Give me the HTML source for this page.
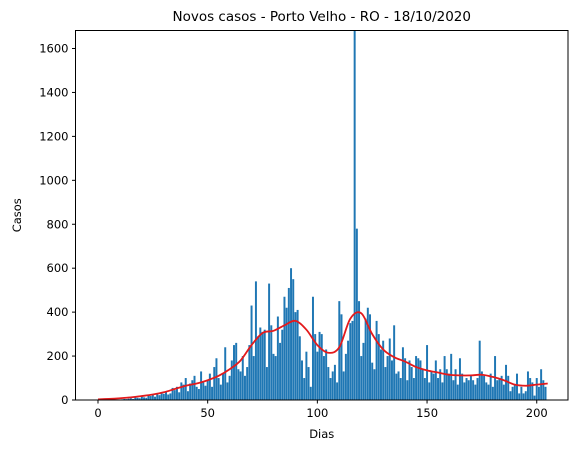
<!DOCTYPE html>
<html><head><meta charset="utf-8"><style>
body{margin:0;background:#fff;font-family:"Liberation Sans","DejaVu Sans",sans-serif}
text{font-family:"DejaVu Sans","Liberation Sans",sans-serif}
</style></head><body>
<svg id="chart" width="580" height="453" xmlns="http://www.w3.org/2000/svg"></svg>
<script>
const days = Array.from({length:205},(_,i)=>i);
const cases = [0,0,0,0,0,0,0,1,0,2,
2,3,5,4,6,8,5,12,10,8,
15,12,10,20,18,25,15,30,22,35,
28,40,25,30,55,45,60,35,80,70,
100,40,75,90,110,60,50,130,80,65,
90,120,60,150,190,100,70,120,240,80,
110,180,250,260,140,130,200,110,150,250,
430,200,540,290,330,310,320,150,530,340,
210,200,380,260,320,470,420,510,600,550,
400,410,290,180,100,220,150,60,470,300,
220,310,300,200,230,150,100,130,160,80,
450,390,130,210,270,350,360,1680,780,450,
200,260,370,420,390,170,140,360,300,230,
270,150,200,280,180,340,120,130,100,240,
190,90,180,150,100,200,190,180,140,100,
250,80,130,120,180,100,140,80,200,140,
120,210,90,140,70,190,120,80,100,90,
110,90,70,100,270,130,110,80,70,120,
60,200,90,100,110,70,160,110,40,60,
70,120,30,60,30,40,130,100,80,20,
100,60,140,90,60];
const trendDays = [0,5,10,15,20,25,30,35,40,45,50,55,60,65,70,75,80,85,90,95,100,105,110,115,120,125,130,135,140,145,150,155,160,165,170,175,180,185,190,195,200,205];
const trendVals = [3,5,8,12,18,25,35,50,65,75,90,110,140,180,250,305,315,340,360,320,250,215,240,370,395,300,230,195,175,150,135,125,115,112,112,115,105,90,70,65,70,75];
const xTicks = [0,50,100,150,200];
const yTicks = [0,200,400,600,800,1000,1200,1400,1600];

const L=75.5,R=568,T=30.5,B=400;
const xmin=-10.25,xmax=214.25,ymax=1682;
const X=v=>L+(v-xmin)/(xmax-xmin)*(R-L);
const Y=v=>B-v/ymax*(B-T);
const svg=document.getElementById('chart');
const NS='http://www.w3.org/2000/svg';
function mk(tag,attrs,parent){const e=document.createElementNS(NS,tag);for(const k in attrs)e.setAttribute(k,attrs[k]);(parent||svg).appendChild(e);return e;}

const bars=mk('g',{});


cases.forEach((c,i)=>{
  const x0=X(days[i]-0.45),x1=X(days[i]+0.45);
  const r=mk('rect',{x:x0,y:Y(c),width:x1-x0,height:B-Y(c),fill:'#1f77b4'},bars);
  
  
});
const pts=trendDays.map((t,i)=>[X(t),Y(trendVals[i])]);
let d='M'+pts[0][0].toFixed(2)+','+pts[0][1].toFixed(2);
for(let i=0;i<pts.length-1;i++){
  const p0=pts[Math.max(0,i-1)],p1=pts[i],p2=pts[i+1],p3=pts[Math.min(pts.length-1,i+2)];
  const c1=[p1[0]+(p2[0]-p0[0])/6,p1[1]+(p2[1]-p0[1])/6];
  const c2=[p2[0]-(p3[0]-p1[0])/6,p2[1]-(p3[1]-p1[1])/6];
  d+='C'+c1[0].toFixed(2)+','+c1[1].toFixed(2)+' '+c2[0].toFixed(2)+','+c2[1].toFixed(2)+' '+p2[0].toFixed(2)+','+p2[1].toFixed(2);
}
const line=mk('path',{d:d,fill:'none',stroke:'#e31a1c','stroke-width':1.8,'stroke-linejoin':'round'});



const frame=mk('rect',{x:L,y:T,width:R-L,height:B-T,fill:'none',stroke:'#000','stroke-width':1});



xTicks.forEach(t=>{
  const x=X(t);
  mk('line',{x1:x,x2:x,y1:B,y2:B+3.5,stroke:'#000'});
  const tx=mk('text',{x:x,y:B+17,'text-anchor':'middle','font-size':11.5});
  tx.textContent=t;
  
  
});
yTicks.forEach(t=>{
  const y=Y(t);
  mk('line',{x1:L,x2:L-3.5,y1:y,y2:y,stroke:'#000'});
  const tx=mk('text',{x:L-7,y:y+4,'text-anchor':'end','font-size':11.5});
  tx.textContent=t;
  
  
});
const title=mk('text',{x:(L+R)/2,y:21,'text-anchor':'middle','font-size':13.5});
title.textContent='Novos casos - Porto Velho - RO - 18/10/2020';


const xl=mk('text',{x:(L+R)/2,y:438,'text-anchor':'middle','font-size':11.5});
xl.textContent='Dias';


const yl=mk('text',{x:0,y:0,'text-anchor':'middle','font-size':11.5,transform:'translate(21,'+((T+B)/2)+') rotate(-90)'});
yl.textContent='Casos';


</script>
</body></html>
